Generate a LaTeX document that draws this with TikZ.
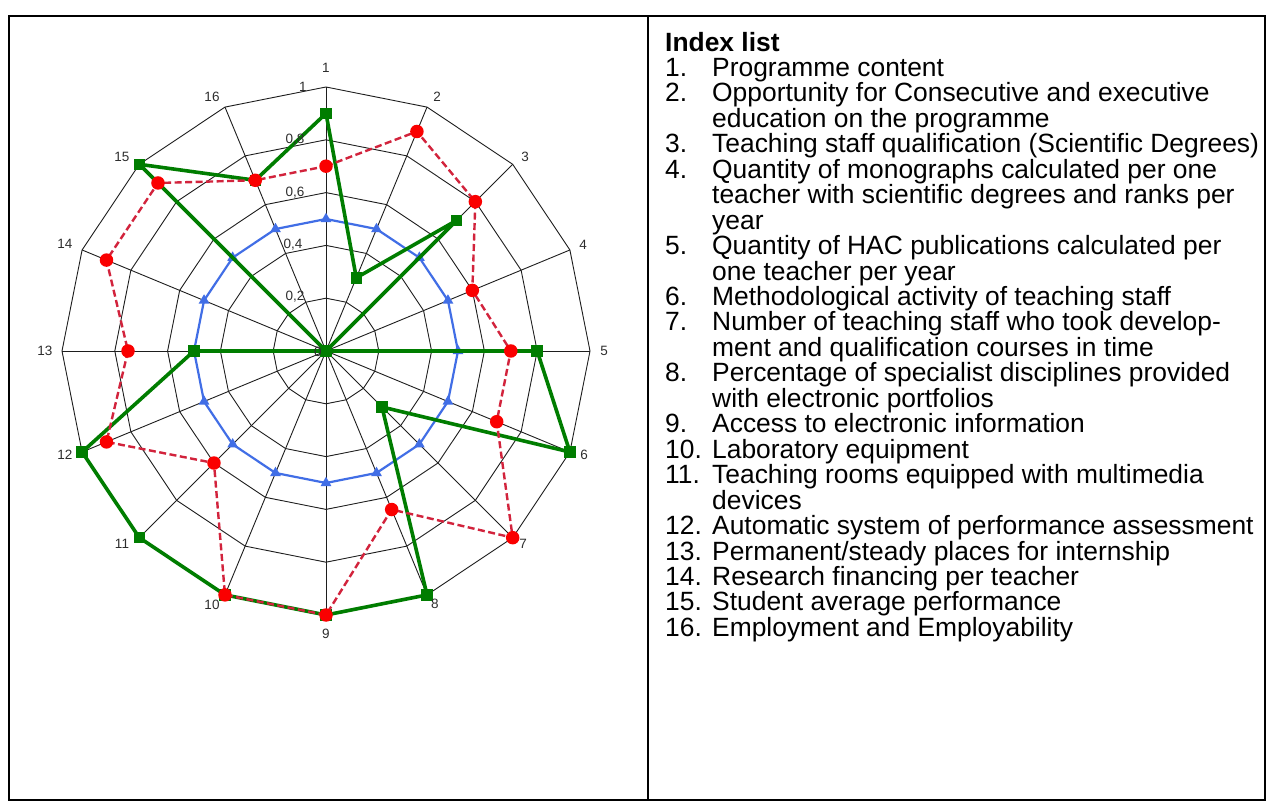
\documentclass[tikz,border=0pt]{standalone}
\usepackage{fontspec}
\setmainfont{Liberation Sans}
\usetikzlibrary{shapes.geometric}
\definecolor{gridc}{RGB}{30,30,30}
\definecolor{lblc}{RGB}{45,45,45}
\definecolor{bluec}{RGB}{65,110,230}
\definecolor{greenc}{RGB}{0,125,0}
\definecolor{redm}{RGB}{250,0,0}
\definecolor{redl}{RGB}{210,35,60}
\tikzset{
  gridline/.style={draw=gridc,line width=0.9pt},
  axlbl/.style={font=\fontsize{13.5}{13.5}\selectfont,text=lblc,inner sep=0pt},
  blueline/.style={draw=bluec,line width=2.2pt,line join=round},
  greenline/.style={draw=greenc,line width=3.6pt,line join=round},
  redline/.style={draw=redl,line width=2.4pt,dash pattern=on 7pt off 3.5pt},
  bluemark/.style={regular polygon,regular polygon sides=3,fill=bluec,minimum size=12.5pt,inner sep=0pt},
  greenmark/.style={rectangle,fill=greenc,minimum size=11.5pt,inner sep=0pt},
  redmark/.style={circle,fill=redm,minimum size=13.5pt,inner sep=0pt},
  txt/.style={anchor=base west,inner sep=0pt,font=\fontsize{26.4}{25.45}\selectfont},
  frame/.style={draw=black,line width=2pt}
}
\newcommand\idxline[3]{%
  \node[txt] (t#1) at (712,{730.5-25.45*(#1-1)}) {#3};
  \if\relax\detokenize{#2}\relax\else
  \node[txt] (n#1) at (665,{730.5-25.45*(#1-1)}) {#2};\fi}
\begin{document}
\begin{tikzpicture}[x=1pt,y=1pt]
\useasboundingbox (0,0) rectangle (1270,807);
\fill[white] (0,0) rectangle (1270,807);
% frame
\draw[frame] (9,791) rectangle (1265,7);
\draw[frame] (648,791) -- (648,7);
% radar
\begin{scope}[shift={(326,456)}]
  \coordinate (c) at (0,0);
  \foreach \k in {1,...,16} \coordinate (o\k) at ({90-(\k-1)*22.5}:264);
  \foreach \v in {52.8,105.6,158.4,211.2,264}
    \draw[gridline] (90:\v) \foreach \k in {1,...,15}{ -- ({90-\k*22.5}:\v)} -- cycle;
  \foreach \k in {1,...,16} \draw[gridline] (c) -- (o\k);
  % data coordinates
  \foreach \v [count=\k] in {0.5,0.5,0.5,0.5,0.5,0.5,0.5,0.5,0.5,0.5,0.5,0.5,0.5,0.5,0.5,0.5}
    \coordinate (b\k) at ({90-(\k-1)*22.5}:{\v*264});
  \foreach \v [count=\k] in {0.9,0.3,0.7,0,0.8,1.0,0.3,1.0,1.0,1.0,1.0,1.0,0.5,0,1.0,0.7}
    \coordinate (g\k) at ({90-(\k-1)*22.5}:{\v*264});
  \foreach \v [count=\k] in {0.7,0.9,0.8,0.6,0.7,0.7,1.0,0.65,1.0,1.0,0.6,0.9,0.75,0.9,0.9,0.7}
    \coordinate (r\k) at ({90-(\k-1)*22.5}:{\v*264});
  % blue series
  \draw[blueline] (b1) \foreach \k in {2,...,16}{ -- (b\k)} -- cycle;
  \foreach \k in {1,...,16} \node[bluemark] (bm\k) at (b\k) {};
  % green series
  \draw[greenline] (g1) \foreach \k in {2,...,16}{ -- (g\k)} -- cycle;
  \foreach \k in {1,...,16} \node[greenmark] (gm\k) at (g\k) {};
  % red series
  \draw[redline] (r1) \foreach \k in {2,...,16}{ -- (r\k)} -- cycle;
  \foreach \k in {1,...,16} \node[redmark] (rm\k) at (r\k) {};
\end{scope}
% axis labels
\node[axlbl] (a1) at (326,739) {1};
\node[axlbl] (a2) at (437,710) {2};
\node[axlbl] (a3) at (525,650) {3};
\node[axlbl] (a4) at (583,562) {4};
\node[axlbl] (a5) at (604,456) {5};
\node[axlbl] (a6) at (584,352) {6};
\node[axlbl] (a7) at (523,263) {7};
\node[axlbl] (a8) at (435,203) {8};
\node[axlbl] (a9) at (326,173) {9};
\node[axlbl] (a10) at (212,202) {10};
\node[axlbl] (a11) at (122,263) {11};
\node[axlbl] (a12) at (65,352) {12};
\node[axlbl] (a13) at (45,456) {13};
\node[axlbl] (a14) at (65,563) {14};
\node[axlbl] (a15) at (122,650) {15};
\node[axlbl] (a16) at (212,710) {16};
% ring labels
\node[axlbl] (v10) at (303,720) {1};
\node[axlbl] (v08) at (295,667) {0,8};
\node[axlbl] (v06) at (295,614) {0,6};
\node[axlbl] (v04) at (293,562) {0,4};
\node[axlbl] (v02) at (295,510) {0,2};
\node[axlbl] (v00) at (318,455) {0};
% index list
\node[txt,font=\fontsize{26.4}{25.45}\selectfont\bfseries] (title) at (665,755.5) {Index list};
\idxline{1}{1.}{Programme content}
\idxline{2}{2.}{Opportunity for Consecutive and executive}
\idxline{3}{}{education on the programme}
\idxline{4}{3.}{Teaching staff qualification (Scientific Degrees)}
\idxline{5}{4.}{Quantity of monographs calculated per one}
\idxline{6}{}{teacher with scientific degrees and ranks per}
\idxline{7}{}{year}
\idxline{8}{5.}{Quantity of HAC publications calculated per}
\idxline{9}{}{one teacher per year}
\idxline{10}{6.}{Methodological activity of teaching staff}
\idxline{11}{7.}{Number of teaching staff who took develop-}
\idxline{12}{}{ment and qualification courses in time}
\idxline{13}{8.}{Percentage of specialist disciplines provided}
\idxline{14}{}{with electronic portfolios}
\idxline{15}{9.}{Access to electronic information}
\idxline{16}{10.}{Laboratory equipment}
\idxline{17}{11.}{Teaching rooms equipped with multimedia}
\idxline{18}{}{devices}
\idxline{19}{12.}{Automatic system of performance assessment}
\idxline{20}{13.}{Permanent/steady places for internship}
\idxline{21}{14.}{Research financing per teacher}
\idxline{22}{15.}{Student average performance}
\idxline{23}{16.}{Employment and Employability}
\end{tikzpicture}
\end{document}
